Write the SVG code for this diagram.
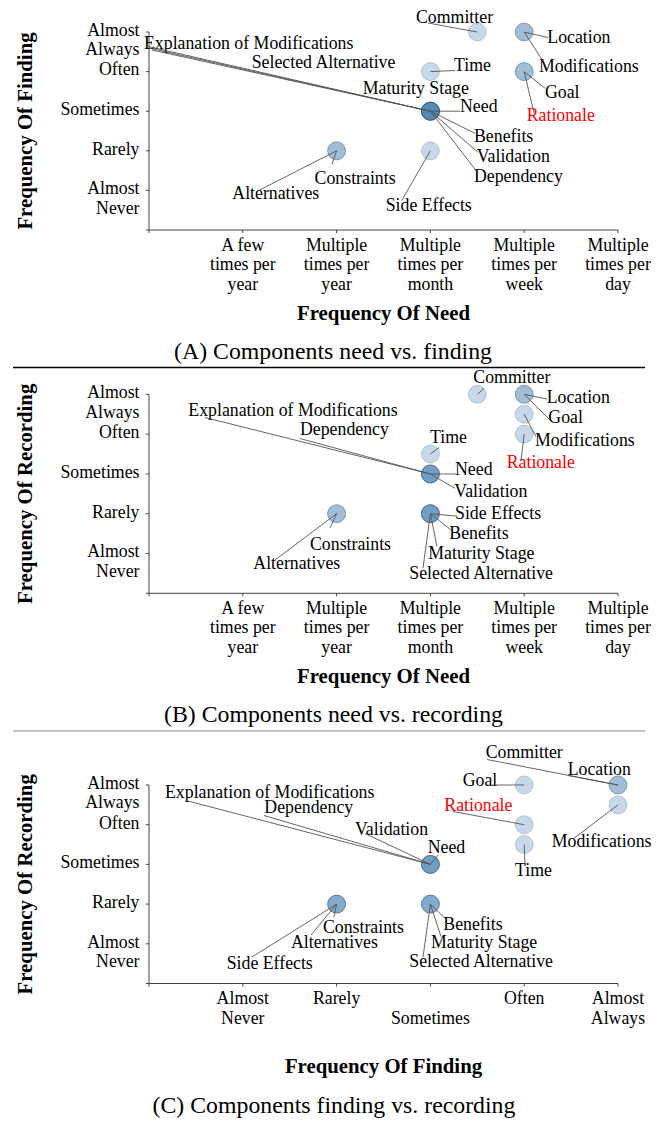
<svg xmlns="http://www.w3.org/2000/svg" width="661" height="1122" viewBox="0 0 661 1122">
<style>
text{font-family:"Liberation Serif","Times New Roman",serif;fill:#000}
.tk{font-size:17.8px}
.ty{text-anchor:end}
.tx{text-anchor:middle}
.lab{font-size:17.8px}
.red{fill:#f00}
.ttl{font-size:20.8px;font-weight:bold;text-anchor:middle}
.cap{font-size:23.8px;text-anchor:middle}
.ax{stroke:#444;stroke-width:1;fill:none}
.pt{fill:#4682b4;fill-opacity:0.3;stroke:#1f3c5c;stroke-opacity:0.22;stroke-width:1}
.ld line{stroke:#555;stroke-width:0.9}
</style>
<rect width="661" height="1122" fill="#fff"/>

<!-- ================= PANEL A ================= -->
<g id="panelA">
<g id="A-axes">
<path class="ax" d="M146,32H149V230H146M146,71.6H149M146,111.2H149M146,150.8H149M146,190.4H149"/>
<path class="ax" d="M149,233V230H618V233M242.8,230V233M336.6,230V233M430.4,230V233M524.2,230V233"/>
<g class="tk ty">
<text x="139.5" y="35.8"><tspan x="139.5">Almost</tspan><tspan x="139.5" dy="19.6">Always</tspan></text>
<text x="139.5" y="75.4">Often</text>
<text x="139.5" y="115">Sometimes</text>
<text x="139.5" y="154.6">Rarely</text>
<text x="139.5" y="194.2"><tspan x="139.5">Almost</tspan><tspan x="139.5" dy="19.6">Never</tspan></text>
</g>
<g class="tk tx">
<text x="242.8" y="250.5"><tspan x="242.8">A few</tspan><tspan x="242.8" dy="19.5">times per</tspan><tspan x="242.8" dy="19.5">year</tspan></text>
<text x="336.6" y="250.5"><tspan x="336.6">Multiple</tspan><tspan x="336.6" dy="19.5">times per</tspan><tspan x="336.6" dy="19.5">year</tspan></text>
<text x="430.4" y="250.5"><tspan x="430.4">Multiple</tspan><tspan x="430.4" dy="19.5">times per</tspan><tspan x="430.4" dy="19.5">month</tspan></text>
<text x="524.2" y="250.5"><tspan x="524.2">Multiple</tspan><tspan x="524.2" dy="19.5">times per</tspan><tspan x="524.2" dy="19.5">week</tspan></text>
<text x="618" y="250.5"><tspan x="618">Multiple</tspan><tspan x="618" dy="19.5">times per</tspan><tspan x="618" dy="19.5">day</tspan></text>
</g>
<text class="ttl" x="383.5" y="319.5">Frequency Of Need</text>
<text class="ttl" transform="translate(32,131) rotate(-90)">Frequency Of Finding</text>
<text class="cap" x="333" y="358.5">(A) Components need vs. finding</text>
</g>
<g id="A-committer"><circle class="pt" cx="477.3" cy="32" r="9"/><text class="lab" x="416" y="22.5">Committer</text></g>
<g id="A-location"><circle class="pt" cx="524.2" cy="32" r="9"/><text class="lab" x="547.3" y="42.5">Location</text></g>
<g id="A-modifications"><circle class="pt" cx="524.2" cy="32" r="9"/><text class="lab" x="539" y="72">Modifications</text></g>
<g id="A-time"><circle class="pt" cx="430.4" cy="71.6" r="9"/><text class="lab" x="454" y="71">Time</text></g>
<g id="A-goal"><circle class="pt" cx="524.2" cy="71.6" r="9"/><text class="lab" x="545" y="98.3">Goal</text></g>
<g id="A-rationale"><circle class="pt" cx="524.2" cy="71.6" r="9"/><text class="lab red" x="526.7" y="120.5">Rationale</text></g>
<g id="A-need"><circle class="pt" cx="430.4" cy="111.2" r="9"/><text class="lab" x="460" y="111.7">Need</text></g>
<g id="A-explanation"><circle class="pt" cx="430.4" cy="111.2" r="9"/><text class="lab" x="144" y="48.5">Explanation of Modifications</text></g>
<g id="A-selected"><circle class="pt" cx="430.4" cy="111.2" r="9"/><text class="lab" x="251.7" y="67.5">Selected Alternative</text></g>
<g id="A-maturity"><circle class="pt" cx="430.4" cy="111.2" r="9"/><text class="lab" x="362.7" y="94.3">Maturity Stage</text></g>
<g id="A-benefits"><circle class="pt" cx="430.4" cy="111.2" r="9"/><text class="lab" x="474" y="142">Benefits</text></g>
<g id="A-validation"><circle class="pt" cx="430.4" cy="111.2" r="9"/><text class="lab" x="476.7" y="161.5">Validation</text></g>
<g id="A-dependency"><circle class="pt" cx="430.4" cy="111.2" r="9"/><text class="lab" x="474" y="181.5">Dependency</text></g>
<g id="A-sideeffects"><circle class="pt" cx="430.4" cy="150.8" r="9"/><text class="lab" x="385.7" y="210.7">Side Effects</text></g>
<g id="A-constraints"><circle class="pt" cx="336.6" cy="150.8" r="9"/><text class="lab" x="314.6" y="184">Constraints</text></g>
<g id="A-alternatives"><circle class="pt" cx="336.6" cy="150.8" r="9"/><text class="lab" x="232.3" y="199">Alternatives</text></g>
<g id="A-connectors" class="ld">
<line x1="477.3" y1="32" x2="428" y2="23"/>
<line x1="524.2" y1="32" x2="548" y2="37.5"/>
<line x1="524.2" y1="32" x2="543.3" y2="61.7"/>
<line x1="430.4" y1="71.6" x2="455" y2="70.5"/>
<line x1="524.2" y1="71.6" x2="545" y2="88.3"/>
<line x1="524.2" y1="71.6" x2="534" y2="113"/>
<line x1="430.4" y1="111.2" x2="460" y2="111.2"/>
<line x1="430.4" y1="111.2" x2="146" y2="46"/>
<line x1="430.4" y1="111.2" x2="149" y2="48"/>
<line x1="430.4" y1="111.2" x2="152" y2="50"/>
<line x1="430.4" y1="111.2" x2="475" y2="133.3"/>
<line x1="430.4" y1="111.2" x2="477.7" y2="152"/>
<line x1="430.4" y1="111.2" x2="476.7" y2="171.5"/>
<line x1="430.4" y1="150.8" x2="401.7" y2="200.5"/>
<line x1="336.6" y1="150.8" x2="332" y2="164"/>
<line x1="336.6" y1="150.8" x2="258.3" y2="190.7"/>
</g>
</g>

<line x1="13" y1="367.5" x2="645" y2="367.5" stroke="#000" stroke-width="1.3"/>

<!-- ================= PANEL B ================= -->
<g id="panelB">
<g id="B-axes">
<path class="ax" d="M146,394.3H149V593.3H146M146,434.1H149M146,474H149M146,513.7H149M146,553.5H149"/>
<path class="ax" d="M149,596.3V593.3H618V596.3M242.8,593.3V596.3M336.6,593.3V596.3M430.4,593.3V596.3M524.2,593.3V596.3"/>
<g class="tk ty">
<text x="139.5" y="398.1"><tspan x="139.5">Almost</tspan><tspan x="139.5" dy="19.6">Always</tspan></text>
<text x="139.5" y="437.9">Often</text>
<text x="139.5" y="477.8">Sometimes</text>
<text x="139.5" y="517.5">Rarely</text>
<text x="139.5" y="557.3"><tspan x="139.5">Almost</tspan><tspan x="139.5" dy="19.6">Never</tspan></text>
</g>
<g class="tk tx">
<text x="242.8" y="613.8"><tspan x="242.8">A few</tspan><tspan x="242.8" dy="19.5">times per</tspan><tspan x="242.8" dy="19.5">year</tspan></text>
<text x="336.6" y="613.8"><tspan x="336.6">Multiple</tspan><tspan x="336.6" dy="19.5">times per</tspan><tspan x="336.6" dy="19.5">year</tspan></text>
<text x="430.4" y="613.8"><tspan x="430.4">Multiple</tspan><tspan x="430.4" dy="19.5">times per</tspan><tspan x="430.4" dy="19.5">month</tspan></text>
<text x="524.2" y="613.8"><tspan x="524.2">Multiple</tspan><tspan x="524.2" dy="19.5">times per</tspan><tspan x="524.2" dy="19.5">week</tspan></text>
<text x="618" y="613.8"><tspan x="618">Multiple</tspan><tspan x="618" dy="19.5">times per</tspan><tspan x="618" dy="19.5">day</tspan></text>
</g>
<text class="ttl" x="383.5" y="682.8">Frequency Of Need</text>
<text class="ttl" transform="translate(32,493.8) rotate(-90)">Frequency Of Recording</text>
<text class="cap" x="333.5" y="721.8">(B) Components need vs. recording</text>
</g>
<g id="B-committer"><circle class="pt" cx="477.3" cy="394.3" r="9"/><text class="lab" x="473.3" y="383.4">Committer</text></g>
<g id="B-location"><circle class="pt" cx="524.2" cy="394.3" r="9"/><text class="lab" x="546.7" y="403.4">Location</text></g>
<g id="B-goal"><circle class="pt" cx="524.2" cy="394.3" r="9"/><text class="lab" x="548.3" y="423.4">Goal</text></g>
<g id="B-modifications"><circle class="pt" cx="524.2" cy="414.2" r="9"/><text class="lab" x="535" y="446">Modifications</text></g>
<g id="B-rationale"><circle class="pt" cx="524.2" cy="434.1" r="9"/><text class="lab red" x="506.7" y="468.4">Rationale</text></g>
<g id="B-time"><circle class="pt" cx="430.4" cy="454" r="9"/><text class="lab" x="430" y="443.4">Time</text></g>
<g id="B-need"><circle class="pt" cx="430.4" cy="474" r="9"/><text class="lab" x="455" y="475">Need</text></g>
<g id="B-validation"><circle class="pt" cx="430.4" cy="474" r="9"/><text class="lab" x="454.3" y="496.7">Validation</text></g>
<g id="B-explanation"><circle class="pt" cx="430.4" cy="474" r="9"/><text class="lab" x="188.3" y="416">Explanation of Modifications</text></g>
<g id="B-dependency"><circle class="pt" cx="430.4" cy="474" r="9"/><text class="lab" x="300" y="435">Dependency</text></g>
<g id="B-sideeffects"><circle class="pt" cx="430.4" cy="513.7" r="9"/><text class="lab" x="455" y="519.4">Side Effects</text></g>
<g id="B-benefits"><circle class="pt" cx="430.4" cy="513.7" r="9"/><text class="lab" x="449.3" y="539.4">Benefits</text></g>
<g id="B-maturity"><circle class="pt" cx="430.4" cy="513.7" r="9"/><text class="lab" x="428.3" y="559.4">Maturity Stage</text></g>
<g id="B-selected"><circle class="pt" cx="430.4" cy="513.7" r="9"/><text class="lab" x="409.3" y="579">Selected Alternative</text></g>
<g id="B-constraints"><circle class="pt" cx="336.6" cy="513.7" r="9"/><text class="lab" x="310" y="550">Constraints</text></g>
<g id="B-alternatives"><circle class="pt" cx="336.6" cy="513.7" r="9"/><text class="lab" x="253.3" y="569.4">Alternatives</text></g>
<g id="B-connectors" class="ld">
<line x1="477.3" y1="394.3" x2="484" y2="388.5"/>
<line x1="524.2" y1="394.3" x2="547" y2="399"/>
<line x1="524.2" y1="394.3" x2="550" y2="420"/>
<line x1="524.2" y1="414.2" x2="536" y2="436.7"/>
<line x1="524.2" y1="434.1" x2="521" y2="461"/>
<line x1="430.4" y1="454" x2="439" y2="447.5"/>
<line x1="430.4" y1="474" x2="456" y2="474"/>
<line x1="430.4" y1="474" x2="455" y2="488.3"/>
<line x1="430.4" y1="474" x2="205" y2="417.5"/>
<line x1="430.4" y1="474" x2="300" y2="438.5"/>
<line x1="430.4" y1="513.7" x2="456" y2="516"/>
<line x1="430.4" y1="513.7" x2="451" y2="530"/>
<line x1="430.4" y1="513.7" x2="437" y2="546.5"/>
<line x1="430.4" y1="513.7" x2="423" y2="568"/>
<line x1="336.6" y1="513.7" x2="330" y2="528"/>
<line x1="336.6" y1="513.7" x2="275" y2="560"/>
</g>
</g>

<line x1="13" y1="731" x2="645" y2="731" stroke="#c4c4c4" stroke-width="2"/>

<!-- ================= PANEL C ================= -->
<g id="panelC">
<g id="C-axes">
<path class="ax" d="M146,785H149V983.5H146M146,824.7H149M146,864.4H149M146,904.1H149M146,943.8H149"/>
<path class="ax" d="M149,986.5V983.5H618V986.5M242.8,983.5V986.5M336.6,983.5V986.5M430.4,983.5V986.5M524.2,983.5V986.5"/>
<g class="tk ty">
<text x="139.5" y="788.8"><tspan x="139.5">Almost</tspan><tspan x="139.5" dy="19.6">Always</tspan></text>
<text x="139.5" y="828.5">Often</text>
<text x="139.5" y="868.2">Sometimes</text>
<text x="139.5" y="907.9">Rarely</text>
<text x="139.5" y="947.6"><tspan x="139.5">Almost</tspan><tspan x="139.5" dy="19.6">Never</tspan></text>
</g>
<g class="tk tx">
<text x="242.8" y="1004"><tspan x="242.8">Almost</tspan><tspan x="242.8" dy="19.5">Never</tspan></text>
<text x="336.6" y="1004">Rarely</text>
<text x="430.4" y="1023.5">Sometimes</text>
<text x="524.2" y="1004">Often</text>
<text x="618" y="1004"><tspan x="618">Almost</tspan><tspan x="618" dy="19.5">Always</tspan></text>
</g>
<text class="ttl" x="383.5" y="1073">Frequency Of Finding</text>
<text class="ttl" transform="translate(32,884.3) rotate(-90)">Frequency Of Recording</text>
<text class="cap" x="334" y="1112.5">(C) Components finding vs. recording</text>
</g>
<g id="C-goal"><circle class="pt" cx="524.2" cy="785" r="9"/><text class="lab" x="462.7" y="786">Goal</text></g>
<g id="C-location"><circle class="pt" cx="618" cy="785" r="9"/><text class="lab" x="567.7" y="775">Location</text></g>
<g id="C-committer"><circle class="pt" cx="618" cy="785" r="9"/><text class="lab" x="485.7" y="758.4">Committer</text></g>
<g id="C-modifications"><circle class="pt" cx="618" cy="804.9" r="9"/><text class="lab" x="551.7" y="846.7">Modifications</text></g>
<g id="C-rationale"><circle class="pt" cx="524.2" cy="824.7" r="9"/><text class="lab red" x="444.3" y="810.7">Rationale</text></g>
<g id="C-time"><circle class="pt" cx="524.2" cy="844.5" r="9"/><text class="lab" x="515" y="876">Time</text></g>
<g id="C-need"><circle class="pt" cx="430.4" cy="864.4" r="9"/><text class="lab" x="427.7" y="853.4">Need</text></g>
<g id="C-validation"><circle class="pt" cx="430.4" cy="864.4" r="9"/><text class="lab" x="355" y="835">Validation</text></g>
<g id="C-explanation"><circle class="pt" cx="430.4" cy="864.4" r="9"/><text class="lab" x="165" y="798.4">Explanation of Modifications</text></g>
<g id="C-dependency"><circle class="pt" cx="430.4" cy="864.4" r="9"/><text class="lab" x="264.3" y="813.4">Dependency</text></g>
<g id="C-benefits"><circle class="pt" cx="430.4" cy="904.1" r="9"/><text class="lab" x="443.3" y="930">Benefits</text></g>
<g id="C-maturity"><circle class="pt" cx="430.4" cy="904.1" r="9"/><text class="lab" x="431" y="948.4">Maturity Stage</text></g>
<g id="C-selected"><circle class="pt" cx="430.4" cy="904.1" r="9"/><text class="lab" x="409.3" y="966.7">Selected Alternative</text></g>
<g id="C-constraints"><circle class="pt" cx="336.6" cy="904.1" r="9"/><text class="lab" x="322.9" y="933.4">Constraints</text></g>
<g id="C-alternatives"><circle class="pt" cx="336.6" cy="904.1" r="9"/><text class="lab" x="291" y="948.4">Alternatives</text></g>
<g id="C-sideeffects"><circle class="pt" cx="336.6" cy="904.1" r="9"/><text class="lab" x="226.7" y="969.4">Side Effects</text></g>
<g id="C-connectors" class="ld">
<line x1="524.2" y1="785" x2="492" y2="785"/>
<line x1="618" y1="785" x2="568" y2="775.5"/>
<line x1="618" y1="785" x2="487" y2="759.5"/>
<line x1="618" y1="804.9" x2="573" y2="839"/>
<line x1="524.2" y1="824.7" x2="453" y2="811.5"/>
<line x1="524.2" y1="844.5" x2="525" y2="866"/>
<line x1="430.4" y1="864.4" x2="438" y2="855"/>
<line x1="430.4" y1="864.4" x2="365" y2="833.5"/>
<line x1="430.4" y1="864.4" x2="186.7" y2="800.7"/>
<line x1="430.4" y1="864.4" x2="264" y2="815.5"/>
<line x1="430.4" y1="904.1" x2="445" y2="918.3"/>
<line x1="430.4" y1="904.1" x2="441" y2="936.7"/>
<line x1="430.4" y1="904.1" x2="423" y2="957"/>
<line x1="336.6" y1="904.1" x2="334" y2="917"/>
<line x1="336.6" y1="904.1" x2="311" y2="935"/>
<line x1="336.6" y1="904.1" x2="252" y2="957"/>
</g>
</g>
</svg>
